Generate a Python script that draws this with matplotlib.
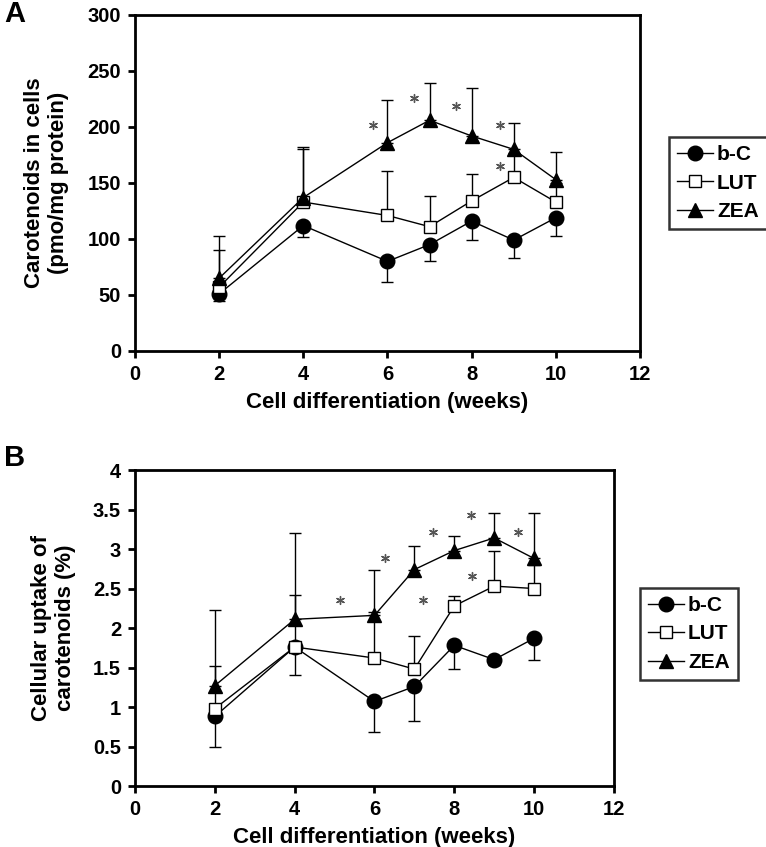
import matplotlib
matplotlib.use('Agg')
import matplotlib.pyplot as plt

plt.rcParams['font.family'] = ['Liberation Sans', 'DejaVu Sans']
plt.rcParams['font.weight'] = 'bold'

weeks = [2, 4, 6, 7, 8, 9, 10]

# panel A - carotenoids in cells (pmo/mg protein)
bc_a = [51, 112, 80, 95, 116, 99, 119]
bc_a_err = [6, 10, 18, 15, 17, 16, 16]          # lower bars
lut_a = [57, 133, 121, 111, 134, 155, 133]
lut_a_err = [33, 47, 40, 27, 24, 22, 17]         # upper bars
zea_a = [65, 137, 186, 206, 192, 180, 153]
zea_a_err = [38, 45, 38, 33, 43, 24, 25]         # upper bars
stars_a_x = [5.66, 6.63, 7.62, 8.67, 8.67]
stars_a_y = [202, 226, 219, 202, 165]

# panel B - cellular uptake (%)
bc_b = [0.88, 1.76, 1.07, 1.26, 1.78, 1.60, 1.87]
bc_b_err = [0.38, 0.36, 0.38, 0.44, 0.30, 0.07, 0.27]
lut_b = [0.98, 1.76, 1.62, 1.48, 2.28, 2.53, 2.50]
lut_b_err = [0.54, 0.66, 0.58, 0.42, 0.12, 0.45, 0.30]
zea_b = [1.27, 2.11, 2.16, 2.74, 2.98, 3.14, 2.88]
zea_b_err = [0.96, 1.09, 0.58, 0.30, 0.18, 0.32, 0.58]
stars_b_x = [5.13, 6.27, 7.21, 7.46, 8.45, 8.43, 9.60]
stars_b_y = [2.35, 2.89, 2.35, 3.21, 2.66, 3.43, 3.21]

series_labels = ['b-C', 'LUT', 'ZEA']

fig = plt.figure(figsize=(7.66, 8.47), dpi=100)
axA = fig.add_axes([0.1762, 0.5856, 0.6593, 0.3967])
axB = fig.add_axes([0.1762, 0.0720, 0.6253, 0.3731])


def draw_panel(ax, bc, bc_err, lut, lut_err, zea, zea_err, sx, sy):
    zeros = [0] * len(weeks)
    eb = dict(ecolor='black', elinewidth=1, capsize=4, capthick=1)
    # error bars first so the markers sit on top
    ax.errorbar(weeks, zea, yerr=[zeros, zea_err], fmt='none', zorder=1, **eb)
    ax.errorbar(weeks, lut, yerr=[zeros, lut_err], fmt='none', zorder=1, **eb)
    ax.errorbar(weeks, bc, yerr=[bc_err, zeros], fmt='none', zorder=1, **eb)
    h1, = ax.plot(weeks, bc, '-o', color='black', lw=1, ms=10.5, zorder=3)
    h2, = ax.plot(weeks, lut, '-s', color='black', mfc='white', mec='black', mew=1,
                  lw=1, ms=8, zorder=3)
    h3, = ax.plot(weeks, zea, '-^', color='black', lw=1, ms=10.5, zorder=3)
    ax.scatter(sx, sy, marker=(6, 2, 0), s=32, color='#555555', linewidths=1, zorder=4)
    for sp in ax.spines.values():
        sp.set_linewidth(2)
    ax.tick_params(direction='out', length=5, width=2, labelsize=14.5, pad=5)
    ax.set_xlim(0, 12)
    ax.set_xticks(range(0, 13, 2))
    ax.set_xlabel('Cell differentiation (weeks)', fontsize=16, fontweight='bold', labelpad=6)
    return [h1, h2, h3]


hA = draw_panel(axA, bc_a, bc_a_err, lut_a, lut_a_err, zea_a, zea_a_err, stars_a_x, stars_a_y)
axA.set_ylim(0, 300)
axA.set_yticks(range(0, 301, 50))
axA.set_ylabel('Carotenoids in cells\n(pmo/mg protein)', fontsize=16, fontweight='bold', labelpad=13)

hB = draw_panel(axB, bc_b, bc_b_err, lut_b, lut_b_err, zea_b, zea_b_err, stars_b_x, stars_b_y)
axB.set_ylim(0, 4)
axB.set_yticks([0, 0.5, 1, 1.5, 2, 2.5, 3, 3.5, 4])
axB.set_yticklabels(['0', '0.5', '1', '1.5', '2', '2.5', '3', '3.5', '4'])
axB.set_ylabel('Cellular uptake of\ncarotenoids (%)', fontsize=16, fontweight='bold', labelpad=12)

for h, anchor in [(hA, (0.8734, 0.8383)), (hB, (0.8355, 0.3061))]:
    leg = fig.legend(h, series_labels, loc='upper left', bbox_to_anchor=anchor,
                     frameon=True, fancybox=False, prop={'weight': 'bold', 'size': 15},
                     handlelength=1.7, handletextpad=0.2, borderpad=0.4, labelspacing=0.45,
                     borderaxespad=0)
    leg.get_frame().set_edgecolor('black')
    leg.get_frame().set_linewidth(1.8)

fig.text(0.005, 0.984, 'A', fontsize=21, fontweight='bold', va='center')
fig.text(0.005, 0.459, 'B', fontsize=21, fontweight='bold', va='center')

fig.savefig('out.png', dpi=100)
